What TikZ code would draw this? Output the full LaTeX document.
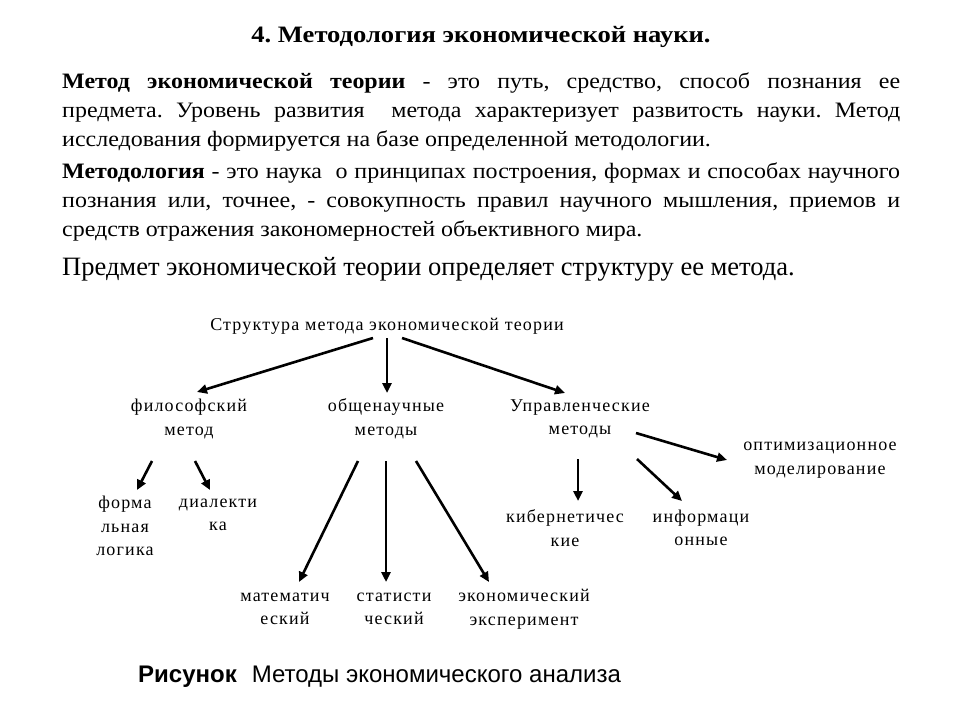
\documentclass[tikz,border=0pt]{standalone}
\usepackage{fontspec}
\setmainfont{Liberation Serif}
\newfontfamily\bodyfont{Liberation Serif}[FakeStretch=1.09]
\newfontfamily\titlefont{Liberation Serif}[FakeStretch=1.13]
\newfontfamily\schemefont{Liberation Serif}[LetterSpace=6.5]
\newfontfamily\capfont{Liberation Sans}
\usetikzlibrary{arrows.meta}
\frenchspacing

\begin{document}
\begin{tikzpicture}[x=1pt,y=-1pt,
    heading/.style ={anchor=base, inner sep=0pt, font=\titlefont\bfseries\fontsize{23.5}{26}\selectfont},
    bodytext/.style ={anchor=base west, inner sep=0pt, text width=838pt, align=justify,
                      font=\bodyfont\fontsize{22}{29}\selectfont},
    method/.style ={align=center, inner sep=1pt, font=\schemefont\fontsize{18}{23.5}\selectfont},
    link/.style ={line width=2.6pt, -{Triangle[length=10pt,width=9pt]}}]
   \useasboundingbox (0,0) rectangle (960,720);
   % text above the scheme
   \node[heading] (title) at (481,42) {4. Методология экономической науки.};
   \node[bodytext] (par1) at (62,88) {\textbf{Метод экономической теории} - это путь, средство, способ познания ее\linebreak
     предмета. Уровень развития \ метода характеризует развитость науки. Метод\linebreak
     исследования формируется на базе определенной методологии.};
   \node[bodytext] (par2) at (62,178) {\textbf{Методология} - это наука \ о принципах построения, формах и способах научного\linebreak
     познания или, точнее, - совокупность правил научного мышления, приемов и\linebreak
     средств отражения закономерностей объективного мира.};
   \node[anchor=base west, inner sep=0pt, font=\fontsize{26.5}{30}\selectfont] (subject) at (62,275)
     {Предмет экономической теории определяет структуру ее метода.};
   % scheme
   \node[method] (root) at (387,326) {Структура метода экономической теории};
   \node[method] (phil) at (189,419) {философский\\метод};
   \node[method] (gen)  at (386,419) {общенаучные\\методы};
   \node[method] (upr)  at (580,419) {Управленческие\\методы};
   \node[method] (opt)  at (820,460) {оптимизационное\\моделирование};
   \node[method] (form) at (125,526) {форма\\льная\\логика};
   \node[method] (dial) at (218,515) {диалекти\\ка};
   \node[method] (kib)  at (565,528) {кибернетичес\\кие};
   \node[method] (inf)  at (701,528) {информаци\\онные};
   \node[method] (mat)  at (285,609) {математич\\еский};
   \node[method] (stat) at (394,609) {статисти\\ческий};
   \node[method] (exp)  at (524,609) {экономический\\эксперимент};
   \draw[link] ([shift={(-14,12)}]root.center) -- ([shift={(8,-27)}]phil.center);
   \draw[link] ([shift={(0,12)}]root.center) -- ([shift={(1,-26)}]gen.center);
   \draw[link] ([shift={(15,12)}]root.center) -- ([shift={(-15,-26)}]upr.center);
   \draw[link] ([shift={(-37,42)}]phil.center) -- ([shift={(12,-36)}]form.center);
   \draw[link] ([shift={(6,42)}]phil.center) -- ([shift={(-8,-25)}]dial.center);
   \draw[link] ([shift={(-28,42)}]gen.center) -- ([shift={(14,-27)}]mat.center);
   \draw[link] ([shift={(0,42)}]gen.center) -- ([shift={(-8,-27)}]stat.center);
   \draw[link] ([shift={(30,42)}]gen.center) -- ([shift={(-35,-27)}]exp.center);
   \draw[link] ([shift={(-2,40)}]upr.center) -- ([shift={(13,-27)}]kib.center);
   \draw[link] ([shift={(57,40)}]upr.center) -- ([shift={(-19,-27)}]inf.center);
   \draw[link] ([shift={(56,14)}]upr.center) -- ([shift={(-93,0)}]opt.center);
   % caption
   \node[anchor=base west, inner sep=0pt, font=\capfont\fontsize{24}{28}\selectfont] (caption) at (138,682)
     {\textbf{Рисунок}\hspace{15pt}Методы экономического анализа};
 \end{tikzpicture}
\end{document}
